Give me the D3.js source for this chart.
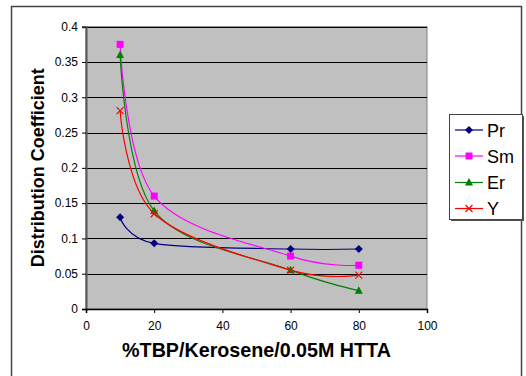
<!DOCTYPE html>
<html><head><meta charset="utf-8">
<script src="https://cdn.jsdelivr.net/npm/d3@7"></script>
<style>html,body{margin:0;padding:0;background:#fff;}svg{display:block;}</style>
</head><body>
<script>
const xValues = [10, 20, 60, 80];
const seriesNames = ["Pr", "Sm", "Er", "Y"];
const prValues = [0.130, 0.093, 0.085, 0.085];
const smValues = [0.375, 0.160, 0.075, 0.062];
const erValues = [0.360, 0.139, 0.055, 0.026];
const yValues  = [0.281, 0.135, 0.055, 0.048];
const xTicks = [0, 20, 40, 60, 80, 100];
const yTicks = [0, 0.05, 0.1, 0.15, 0.2, 0.25, 0.3, 0.35, 0.4];
const yTickLabels = ["0", "0.05", "0.1", "0.15", "0.2", "0.25", "0.3", "0.35", "0.4"];

const series = [
  {name: seriesNames[0], values: prValues, color: "#000080", marker: "diamond"},
  {name: seriesNames[1], values: smValues, color: "#ff00ff", marker: "square"},
  {name: seriesNames[2], values: erValues, color: "#008000", marker: "triangle"},
  {name: seriesNames[3], values: yValues,  color: "#ff0000", marker: "x"}
];

const W = 526, H = 376;
const svg = d3.select("body").append("svg").attr("width", W).attr("height", H);
const font = "Arial, 'Liberation Sans', sans-serif";

// outer border
svg.append("rect").attr("x", 11.5).attr("y", 6.5).attr("width", 510).attr("height", 380)
  .attr("fill", "#fff").attr("stroke", "#444").attr("stroke-width", 1.5);

const pl = 86, pr = 427, pt = 26.7, pb = 309;
const x = d3.scaleLinear().domain([0, 100]).range([pl, pr]);
const y = d3.scaleLinear().domain([0, 0.4]).range([pb, pt]);

// plot background
svg.append("rect").attr("x", pl).attr("y", pt).attr("width", pr - pl).attr("height", pb - pt)
  .attr("fill", "#c0c0c0").attr("stroke", "#808080").attr("stroke-width", 1);

// gridlines
svg.append("g").selectAll("line").data(yTicks.filter(d => d > 0)).join("line")
  .attr("x1", pl).attr("x2", pr)
  .attr("y1", d => Math.round(y(d)) + 0.5).attr("y2", d => Math.round(y(d)) + 0.5)
  .attr("stroke", "#000").attr("stroke-width", 1);

// y axis
const yAxis = d3.axisLeft(y).tickValues(yTicks).tickSize(4).tickPadding(4)
  .tickFormat((d, i) => yTickLabels[i]);
const gy = svg.append("g").attr("transform", `translate(${pl},0)`).call(yAxis);
gy.select(".domain").attr("stroke", "#555").attr("stroke-width", 2);
gy.selectAll(".tick line").attr("stroke", "#000");
gy.selectAll("text").attr("font-family", font).attr("font-size", 12).attr("fill", "#000");

// x axis
const xAxis = d3.axisBottom(x).tickValues(xTicks).tickSize(4).tickPadding(8).tickFormat(d3.format("d"));
const gx = svg.append("g").attr("transform", `translate(0,${pb})`).call(xAxis);
gx.select(".domain").attr("stroke", "#000").attr("stroke-width", 1.5);
gx.selectAll(".tick line").attr("stroke", "#000");
gx.selectAll("text").attr("font-family", font).attr("font-size", 12).attr("fill", "#000");

// titles
svg.append("text").attr("x", (pl + pr) / 2).attr("y", 357).attr("text-anchor", "middle")
  .attr("font-family", font).attr("font-weight", "bold").attr("font-size", 19.7)
  .text("%TBP/Kerosene/0.05M HTTA");
svg.append("text").attr("transform", `translate(44,${(pt + pb) / 2}) rotate(-90)`)
  .attr("text-anchor", "middle").attr("font-family", font).attr("font-weight", "bold").attr("font-size", 18)
  .text("Distribution Coefficient");

// lines
const line = d3.line().x(d => x(d[0])).y(d => y(d[1])).curve(d3.curveCatmullRom.alpha(0));
function drawMarker(g, type, cx, cy, color) {
  if (type === "diamond") {
    g.append("path").attr("d", `M${cx},${cy-4}L${cx+4},${cy}L${cx},${cy+4}L${cx-4},${cy}Z`).attr("fill", color);
  } else if (type === "square") {
    g.append("rect").attr("x", cx - 3.5).attr("y", cy - 3.5).attr("width", 7).attr("height", 7).attr("fill", color);
  } else if (type === "triangle") {
    g.append("path").attr("d", `M${cx},${cy-4.5}L${cx+4},${cy+3}L${cx-4},${cy+3}Z`).attr("fill", color);
  } else if (type === "x") {
    g.append("path").attr("d", `M${cx-3.5},${cy-3.5}L${cx+3.5},${cy+3.5}M${cx-3.5},${cy+3.5}L${cx+3.5},${cy-3.5}`)
      .attr("stroke", color).attr("stroke-width", 1.2).attr("fill", "none");
  }
}
series.forEach(s => {
  const pts = xValues.map((xv, i) => [xv, s.values[i]]);
  svg.append("path").datum(pts).attr("d", line).attr("fill", "none")
    .attr("stroke", s.color).attr("stroke-width", 1.2);
});
series.forEach(s => {
  const g = svg.append("g");
  xValues.forEach((xv, i) => drawMarker(g, s.marker, x(xv), y(s.values[i]), s.color));
});

// legend
const lg = svg.append("g");
lg.append("rect").attr("x", 451).attr("y", 116).attr("width", 73).attr("height", 105).attr("fill", "#555");
lg.append("rect").attr("x", 449.5).attr("y", 114.5).attr("width", 73).attr("height", 105)
  .attr("fill", "#fff").attr("stroke", "#444").attr("stroke-width", 1);
const legY = [130, 156, 182.5, 208.5];
series.forEach((s, i) => {
  lg.append("line").attr("x1", 455).attr("x2", 483).attr("y1", legY[i]).attr("y2", legY[i])
    .attr("stroke", s.color).attr("stroke-width", 1.2);
  drawMarker(lg, s.marker, 469, legY[i], s.color);
  lg.append("text").attr("x", 487).attr("y", legY[i] + 6.5).attr("font-family", font)
    .attr("font-size", 18).attr("fill", "#000").text(s.name);
});
</script>
</body></html>
